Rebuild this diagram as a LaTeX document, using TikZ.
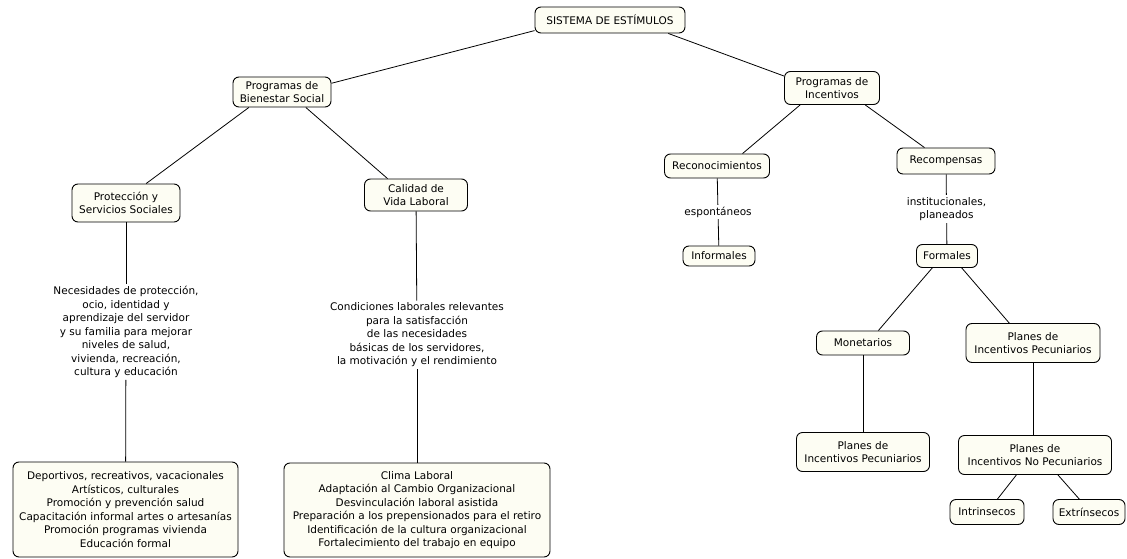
\documentclass[tikz,border=0pt]{standalone}
\usepackage{fontspec}
\setmainfont{DejaVu Sans}
\usepackage{tikz}
\definecolor{boxfill}{RGB}{253,253,243}

\begin{document}
\begin{tikzpicture}[x=1pt,y=-1pt,
    font=\fontsize{10.5}{13.5}\selectfont,
    box/.style={draw, rounded corners=6pt, fill=boxfill, align=center, line width=0.9pt, inner sep=2pt},
    plain/.style={align=center, inner sep=2pt},
    link/.style={line width=0.8pt}]
            \useasboundingbox (0,0) rectangle (1127,559);

            \node[box, minimum width=150, minimum height=26] (sistema) at (610,20) {SISTEMA DE ESTÍMULOS};
            \node[box, minimum width=98, minimum height=30] (bien) at (282,92) {Programas de\\Bienestar Social};
            \node[box, minimum width=95, minimum height=33] (incent) at (832,88) {Programas de\\Incentivos};

            \node[box, minimum width=108, minimum height=38] (prot) at (126,203) {Protección y\\Servicios Sociales};
            \node[box, minimum width=103, minimum height=32] (calidad) at (416,195) {Calidad de\\Vida Laboral};

            \node[plain] (nec) at (126,332) {Necesidades de protección,\\ocio, identidad y\\aprendizaje del servidor\\y su familia para mejorar\\niveles de salud,\\vivienda, recreación,\\cultura y educación};
            \node[plain] (cond) at (417,335) {Condiciones laborales relevantes\\para la satisfacción\\de las necesidades\\básicas de los servidores,\\la motivación y el rendimiento};

            \node[box, minimum width=225, minimum height=95] (deport) at (125.5,509.5) {Deportivos, recreativos, vacacionales\\Artísticos, culturales\\Promoción y prevención salud\\Capacitación informal artes o artesanías\\Promoción programas vivienda\\Educación formal};
            \node[box, minimum width=266, minimum height=94] (clima) at (417,510) {Clima Laboral\\Adaptación al Cambio Organizacional\\Desvinculación laboral asistida\\Preparación a los prepensionados para el retiro\\Identificación de la cultura organizacional\\Fortalecimiento del trabajo en equipo};

            \node[box, minimum width=105, minimum height=24] (recon) at (717,166) {Reconocimientos};
            \node[box, minimum width=72, minimum height=20] (infor) at (719,256) {Informales};
            \node[box, minimum width=98, minimum height=26] (recomp) at (946,161) {Recompensas};
            \node[box, minimum width=61, minimum height=23] (formal) at (947,256) {Formales};
            \node[box, minimum width=93, minimum height=24] (monet) at (863,343) {Monetarios};
            \node[box, minimum width=134, minimum height=39] (pecun) at (1033,343) {Planes de\\Incentivos Pecuniarios};
            \node[box, minimum width=133, minimum height=39] (pecunb) at (863,452) {Planes de\\Incentivos Pecuniarios};
            \node[box, minimum width=153, minimum height=39] (nopecun) at (1035,455) {Planes de\\Incentivos No Pecuniarios};
            \node[box, minimum width=74, minimum height=25] (intrin) at (987,512) {Intrinsecos};
            \node[box, minimum width=72, minimum height=25] (extrin) at (1089,512) {Extrínsecos};

            \draw[link] (sistema.188) -- (bien.10);
            \draw[link] (sistema.-13) -- (incent.166);
            \draw[link] (bien.205) -- (prot.44);
            \draw[link] (bien.-33) -- (calidad.150);
            \draw[link] (prot) -- (nec);
            \draw[link] (nec) -- (deport);
            \draw[link] (calidad) -- (cond);
            \draw[link] (cond) -- (clima);

            \draw[link] (incent.208) -- (recon.26);
            \draw[link] (incent.-27) -- (recomp.148);
            \draw[link] (recon) -- node[plain, fill=white] {espontáneos} (infor);
            \draw[link] (recomp) -- node[plain, fill=white] {institucionales,\\planeados} (formal);
            \draw[link] (formal.219) -- (monet.39);
            \draw[link] (formal.-39) -- (pecun.140);
            \draw[link] (monet) -- (pecunb);
            \draw[link] (pecun.south) -- (pecun.south |- nopecun.north);
            \draw[link] (nopecun.227) -- (intrin.51);
            \draw[link] (nopecun.-41) -- (extrin.127);
        \end{tikzpicture}
\end{document}
